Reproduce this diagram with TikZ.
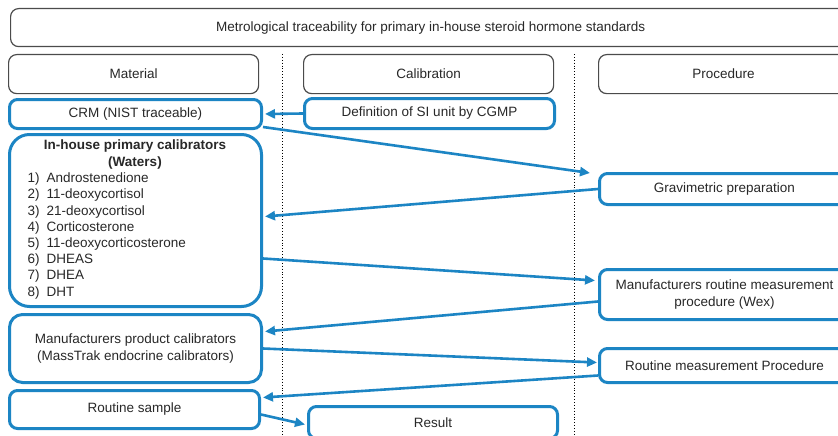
\documentclass[tikz,border=0pt]{standalone}
\usepackage{fontspec}
\setmainfont{Liberation Sans}
\usetikzlibrary{arrows.meta,calc}
\definecolor{tblue}{RGB}{28,133,196}
\definecolor{tgray}{RGB}{75,75,75}
\definecolor{ttext}{RGB}{40,40,40}
\begin{document}
\begin{tikzpicture}[x=1pt,y=-1pt,
  font=\fontsize{13.5}{16.2}\selectfont, text=ttext,
  graybox/.style={draw=tgray, line width=1.2pt, rounded corners=8pt, anchor=north west, inner sep=0pt},
  bluebox/.style={draw=tblue, line width=3pt, rounded corners=8pt, anchor=north west, inner sep=0pt, fill=white},
  conn/.style={draw=tblue, line width=2.6pt, -{Triangle[length=10pt,width=9pt]}},
  divider/.style={dotted, line width=0.9pt, black}]
\useasboundingbox (0,0) rectangle (838,436);
\clip (0,0) rectangle (838,436);
\fill[white] (0,0) rectangle (838,436);

% dividers
\coordinate (d1t) at (282,54);
\coordinate (d1b) at (282,440);
\coordinate (d2t) at (574,54);
\coordinate (d2b) at (574,440);
\draw[divider] (d1t) -- (d1b);
\draw[divider] (d2t) -- (d2b);

% headers
\node[graybox, minimum width=840, minimum height=38] (title) at (10,8) {Metrological traceability for primary in-house steroid hormone standards};
\node[graybox, minimum width=250, minimum height=39] (material) at (8,54) {Material};
\node[graybox, minimum width=250, minimum height=39] (calib) at (303,54) {Calibration};
\node[graybox, minimum width=250, minimum height=39] (proc) at (598,54) {Procedure};

% material column
\node[bluebox, minimum width=252, minimum height=29] (crm) at (8,98) {CRM (NIST traceable)};
\node[bluebox, rounded corners=20pt, minimum width=252, minimum height=172] (inhouse) at (8,133) {};
\node[align=center, font=\fontsize{13.5}{17}\selectfont\bfseries] (ihtitle) at (135,154.5) {In-house primary calibrators\\(Waters)};
\node[align=left, anchor=west] (ihlist) at (24,236) {%
\makebox[19pt][l]{1)}Androstenedione\\
\makebox[19pt][l]{2)}11-deoxycortisol\\
\makebox[19pt][l]{3)}21-deoxycortisol\\
\makebox[19pt][l]{4)}Corticosterone\\
\makebox[19pt][l]{5)}11-deoxycorticosterone\\
\makebox[19pt][l]{6)}DHEAS\\
\makebox[19pt][l]{7)}DHEA\\
\makebox[19pt][l]{8)}DHT};
\node[bluebox, rounded corners=13pt, minimum width=252, minimum height=68, align=center] (mfrp) at (8,313) {Manufacturers product calibrators\\(MassTrak endocrine calibrators)};
\node[bluebox, minimum width=250, minimum height=38] (rs) at (8,389) {Routine sample};

% calibration column
\node[bluebox, minimum width=250, minimum height=30] (defsi) at (303,97) {Definition of SI unit by CGMP};
\node[bluebox, minimum width=249, minimum height=32] (result) at (307,405) {Result};

% procedure column
\node[bluebox, minimum width=250, minimum height=31] (grav) at (598,172) {Gravimetric preparation};
\node[bluebox, minimum width=250, minimum height=50, align=center] (mfrr) at (598,268) {Manufacturers routine measurement\\procedure (Wex)};
\node[bluebox, minimum width=250, minimum height=34] (rmp) at (598,347) {Routine measurement Procedure};

% connectors
\draw[conn] (defsi.west) -- ($(crm.east)+(2,0)$);
\draw[conn] ($(crm.south east)+(0,-3)$) -- ($(grav.north west)+(-8,1)$);
\draw[conn] (grav.west) -- ($(inhouse.east)+(2,-4)$);
\draw[conn] ($(inhouse.east)+(0,38)$) -- ($(mfrr.west)+(-3,-14)$);
\draw[conn] ($(mfrr.west)+(0,7)$) -- ($(mfrp.east)+(2,-17)$);
\draw[conn] (mfrp.east) -- ($(rmp.west)+(-1,-3)$);
\draw[conn] ($(rmp.west)+(0,10)$) -- ($(rs.east)+(2,-12)$);
\draw[conn] ($(rs.east)+(0,5)$) -- ($(result.west)+(-2,2)$);
\end{tikzpicture}
\end{document}
